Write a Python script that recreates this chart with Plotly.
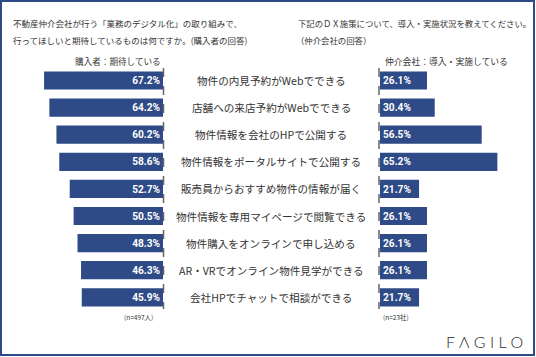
import plotly.graph_objects as go

W, H = 536, 357

categories = [
    "物件の内見予約がWebでできる",
    "店舗への来店予約がWebでできる",
    "物件情報を会社のHPで公開する",
    "物件情報をポータルサイトで公開する",
    "販売員からおすすめ物件の情報が届く",
    "物件情報を専用マイページで閲覧できる",
    "物件購入をオンラインで申し込める",
    "AR・VRでオンライン物件見学ができる",
    "会社HPでチャットで相談ができる",
]
buyer_expect = [67.2, 64.2, 60.2, 58.6, 52.7, 50.5, 48.3, 46.3, 45.9]
agent_done = [26.1, 30.4, 56.5, 65.2, 21.7, 26.1, 26.1, 26.1, 21.7]

title_left = ["不動産仲介会社が行う「業務のデジタル化」の取り組みで、",
              "行ってほしいと期待しているものは何ですか。(購入者の回答)"]
title_right = ["下記のＤＸ施策について、導入・実施状況を教えてください。",
               "（仲介会社の回答）"]
label_left = "購入者：期待している"
label_right = "仲介会社：導入・実施している"
n_left = "(n=497人)"
n_right = "(n=23社)"
logo = "F Λ G I L O"

NAVY = "#2e4a87"
TXT = "#333333"
JP = "Noto Sans CJK JP, sans-serif"
NUM = "Liberation Sans Narrow, Roboto, sans-serif"

def px(x):
    return x / W

def py(y):
    return 1 - y / H

idx = list(range(len(categories)))
row0, step = 80.5, 27.1
ymin = -row0 / step
ymax = ymin + H / step

fig = go.Figure()
fig.add_trace(go.Bar(
    x=buyer_expect, y=idx, orientation="h", xaxis="x", yaxis="y",
    marker=dict(color=NAVY, line=dict(width=0)), width=0.67,
    text=[f"{v:.1f}%" for v in buyer_expect], textposition="inside",
    insidetextanchor="start", textangle=0,
    textfont=dict(family=NUM, size=12.5, color="white", weight="bold"),
    hoverinfo="skip", cliponaxis=False,
))
fig.add_trace(go.Bar(
    x=agent_done, y=idx, orientation="h", xaxis="x2", yaxis="y",
    marker=dict(color=NAVY, line=dict(width=0)), width=0.67,
    text=[f"{v:.1f}%" for v in agent_done], textposition="inside",
    insidetextanchor="start", textangle=0,
    textfont=dict(family=NUM, size=12.5, color="white", weight="bold"),
    hoverinfo="skip", cliponaxis=False,
))

left_base, left_scale = 163, 1.77
right_base, right_scale = 380, 1.80
lrange = 90
rrange = 85

fig.update_layout(
    width=W, height=H,
    margin=dict(l=0, r=0, t=0, b=0),
    paper_bgcolor="white", plot_bgcolor="white",
    showlegend=False,
    uniformtext=dict(mode=False),
    xaxis=dict(domain=[px(left_base - lrange * left_scale), px(left_base)],
               range=[lrange, 0], visible=False, fixedrange=True),
    xaxis2=dict(domain=[px(right_base), px(right_base + rrange * right_scale)],
                range=[0, rrange], visible=False, fixedrange=True, anchor="y"),
    yaxis=dict(range=[ymax, ymin], visible=False, fixedrange=True),
    font=dict(family=JP, color=TXT),
)

ann = []
for i, c in enumerate(categories):
    ann.append(dict(x=px(271), y=i, xref="paper", yref="y", text=c, showarrow=False,
                    xanchor="center", yanchor="middle",
                    font=dict(family=JP, size=10.6, color=TXT)))

for k, t in enumerate(title_left):
    ann.append(dict(x=px(11), y=py(23 + 16.5 * k), xref="paper", yref="paper", text=t,
                    showarrow=False, xanchor="left", yanchor="middle",
                    font=dict(family=JP, size=8.5, color=TXT)))
for k, t in enumerate(title_right):
    ann.append(dict(x=px(296 if k == 0 else 294), y=py(23 + 16.5 * k), xref="paper", yref="paper", text=t,
                    showarrow=False, xanchor="left", yanchor="middle",
                    font=dict(family=JP, size=8.4, color=TXT)))
ann.append(dict(x=px(118), y=py(61), xref="paper", yref="paper", text=label_left,
                showarrow=False, xanchor="center", yanchor="middle",
                font=dict(family=JP, size=8.6, color=TXT)))
ann.append(dict(x=px(446), y=py(61), xref="paper", yref="paper", text=label_right,
                showarrow=False, xanchor="center", yanchor="middle",
                font=dict(family=JP, size=8.8, color=TXT)))
ann.append(dict(x=px(138), y=py(317), xref="paper", yref="paper", text=n_left,
                showarrow=False, xanchor="center", yanchor="middle",
                font=dict(family=JP, size=6.5, color=TXT)))
ann.append(dict(x=px(396), y=py(317), xref="paper", yref="paper", text=n_right,
                showarrow=False, xanchor="center", yanchor="middle",
                font=dict(family=JP, size=6.5, color=TXT)))
ann.append(dict(x=px(484), y=py(341), xref="paper", yref="paper", text=logo,
                showarrow=False, xanchor="center", yanchor="middle",
                font=dict(family="Lato, sans-serif", size=16, color="#2a2a2a", weight=300)))

shapes = [
    dict(type="line", xref="paper", yref="paper", x0=px(left_base + 0.5), x1=px(left_base + 0.5),
         y0=py(68), y1=py(309), line=dict(color="#666666", width=1.5, dash="dash")),
    dict(type="line", xref="paper", yref="paper", x0=px(right_base - 1), x1=px(right_base - 1),
         y0=py(68), y1=py(309), line=dict(color="#666666", width=1.5, dash="dash")),
    dict(type="rect", xref="paper", yref="paper", x0=px(1), x1=px(534), y0=py(355), y1=py(1),
         line=dict(color=NAVY, width=2), fillcolor="rgba(0,0,0,0)"),
]
fig.update_layout(annotations=ann, shapes=shapes)

fig.write_html("out.html", config={"displayModeBar": False},
               post_script="document.body.style.margin='0';document.body.style.overflow='hidden';")
